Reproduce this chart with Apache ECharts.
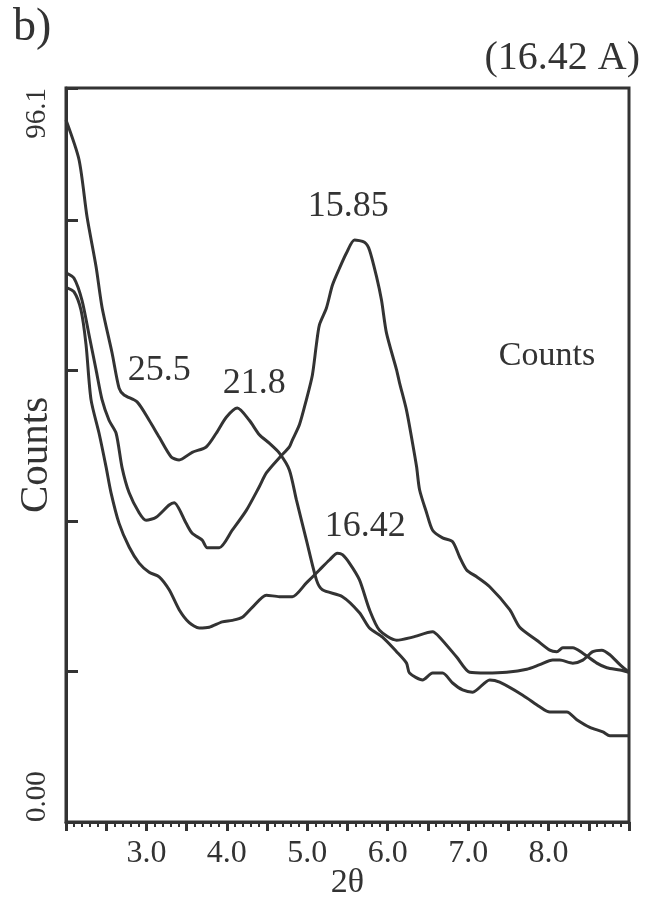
<!DOCTYPE html>
<html>
<head>
<meta charset="utf-8">
<title>XRD counts vs 2θ</title>
<script src="https://cdn.jsdelivr.net/npm/echarts@6/dist/echarts.min.js"></script>
<style>
  html, body { margin: 0; padding: 0; background: #fff; }
  #chart { width: 648px; height: 918px; }
</style>
</head>
<body>
<div id="chart"></div>
<script>
// curve values, [2θ, counts]
var curveA = [[2.000,91.9],[2.162,86.7],[2.262,79.2],[2.374,72.7],[2.448,67.4],[2.573,61.4],[2.660,56.8],[2.722,55.9],[2.884,55.0],[3.034,52.6],[3.158,50.4],[3.308,47.8],[3.407,47.4],[3.569,48.4],[3.743,49.1],[3.868,50.9],[3.993,53.0],[4.130,54.2],[4.279,52.6],[4.404,50.7],[4.528,49.6],[4.653,48.3],[4.777,46.1],[4.864,42.2],[4.989,36.9],[5.114,31.7],[5.188,30.4],[5.437,29.5],[5.649,27.4],[5.773,25.4],[5.935,24.2],[6.110,22.3],[6.234,20.8],[6.271,19.5],[6.433,18.6],[6.558,19.5],[6.682,19.5],[6.807,18.2],[6.931,17.3],[7.056,17.0],[7.268,18.6],[7.392,18.3],[7.679,16.6],[7.890,15.1],[8.015,14.4],[8.227,14.4],[8.351,13.4],[8.513,12.4],[8.675,11.8],[8.762,11.3],[9.000,11.3]];
var curveB = [[2.000,71.9],[2.100,71.2],[2.199,68.3],[2.286,63.8],[2.374,59.2],[2.448,55.3],[2.535,52.6],[2.623,50.9],[2.697,46.4],[2.785,43.1],[2.909,40.5],[2.996,39.5],[3.121,39.9],[3.283,41.5],[3.345,41.8],[3.494,39.1],[3.569,37.8],[3.694,36.9],[3.756,35.9],[3.905,35.9],[4.067,38.2],[4.242,40.8],[4.403,43.9],[4.491,45.7],[4.653,47.7],[4.777,49.1],[4.814,50.0],[4.902,52.0],[4.989,55.3],[5.063,58.5],[5.113,62.5],[5.151,65.1],[5.238,67.3],[5.313,70.3],[5.400,72.5],[5.487,74.5],[5.587,76.2],[5.711,75.9],[5.773,74.9],[5.861,71.4],[5.923,68.3],[5.985,64.0],[6.110,59.2],[6.147,57.5],[6.234,53.9],[6.309,49.6],[6.359,46.5],[6.396,43.5],[6.483,40.5],[6.558,38.2],[6.682,37.2],[6.807,36.7],[6.894,34.7],[6.981,33.0],[7.106,32.1],[7.268,30.8],[7.517,27.8],[7.641,25.5],[7.853,23.8],[8.015,22.5],[8.102,22.3],[8.177,22.8],[8.301,22.8],[8.426,22.1],[8.600,20.8],[8.725,20.2],[8.887,19.9],[9.000,19.6]];
var curveC = [[2.000,70.0],[2.100,69.4],[2.187,67.0],[2.249,62.5],[2.311,55.3],[2.411,50.9],[2.498,46.5],[2.560,43.1],[2.660,39.1],[2.785,36.0],[2.909,33.9],[3.034,32.7],[3.158,32.1],[3.283,30.4],[3.407,27.8],[3.532,26.1],[3.656,25.4],[3.781,25.5],[3.943,26.2],[4.067,26.4],[4.192,26.8],[4.316,28.1],[4.491,29.7],[4.653,29.5],[4.814,29.5],[4.989,31.3],[5.151,33.0],[5.275,34.3],[5.375,35.2],[5.437,35.0],[5.524,33.9],[5.649,31.7],[5.773,27.8],[5.898,25.1],[6.110,23.8],[6.309,24.2],[6.558,24.9],[6.645,24.2],[6.857,21.6],[7.019,19.6],[7.230,19.5],[7.479,19.6],[7.729,20.0],[7.890,20.6],[8.052,21.2],[8.139,21.2],[8.301,20.8],[8.426,21.2],[8.550,22.3],[8.662,22.5],[8.762,21.9],[8.887,20.6],[9.000,19.6]];

// d-spacing notes written over the peaks: text, 2θ, counts
var notesA = [['25.5', 3.16, 56.8], ['21.8', 4.34, 55.0]];
var notesB = [['15.85', 5.51, 78.2]];
var notesC = [['16.42', 5.72, 36.3]];
var insideNote = ['Counts', 7.98, 58.8];

var xTickLabels = [3, 4, 5, 6, 7, 8];
var yMin = 0, yMax = 96.1;

var serif = "'Liberation Serif', 'DejaVu Serif', serif";
var ink = '#333';

function notePoints(list, size) {
    return list.map(function (n) {
        return {
            coord: [n[1], n[2]],
            value: n[0],
            label: { fontSize: size }
        };
    });
}

function curve(data, notes) {
    return {
        type: 'line',
        data: data,
        showSymbol: false,
        smooth: 0.25,
        lineStyle: { color: ink, width: 3 },
        silent: true,
        markPoint: {
            symbol: 'circle',
            symbolSize: 0,
            silent: true,
            label: {
                show: true,
                position: 'top',
                distance: 0,
                color: ink,
                fontFamily: serif,
                formatter: '{c}'
            },
            data: notePoints(notes, 36)
        }
    };
}

var myChart = echarts.init(document.getElementById('chart'), null, { renderer: 'canvas' });

var option = {
    animation: false,
    backgroundColor: '#fff',
    title: [
        { text: 'b)', left: 8, top: 0, textStyle: { fontFamily: serif, fontWeight: 'normal', fontSize: 46, color: ink } },
        { text: '(16.42 A)', right: 3, top: 33, textStyle: { fontFamily: serif, fontWeight: 'normal', fontSize: 40, color: ink } }
    ],
    grid: {
        left: 66,
        right: 19,
        top: 88,
        bottom: 96,
        containLabel: false,
        outerBoundsMode: 'none',
        show: true,
        borderColor: ink,
        borderWidth: 3,
        backgroundColor: 'transparent'
    },
    xAxis: {
        type: 'value',
        min: 2,
        max: 9,
        interval: 0.5,
        name: '2θ',
        nameLocation: 'middle',
        nameGap: 44,
        nameMoveOverlap: false,
        nameTextStyle: { fontFamily: serif, fontSize: 34, color: ink },
        axisLine: { lineStyle: { color: ink, width: 3 } },
        axisTick: { inside: false, length: 9, lineStyle: { color: ink, width: 3 } },
        minorTick: { show: true, splitNumber: 5, length: 5, lineStyle: { color: ink, width: 2 } },
        splitLine: { show: false },
        axisLabel: {
            margin: 16,
            fontFamily: serif,
            fontSize: 32,
            color: ink,
            formatter: function (v) {
                return xTickLabels.indexOf(Math.round(v * 10) / 10) >= 0 ? v.toFixed(1) : '';
            }
        }
    },
    yAxis: {
        type: 'value',
        min: yMin,
        max: yMax,
        interval: 19.7,
        name: 'Counts',
        nameLocation: 'middle',
        nameRotate: 90,
        nameGap: 9,
        nameMoveOverlap: false,
        nameTextStyle: { fontFamily: serif, fontSize: 41, color: ink },
        axisLine: { lineStyle: { color: ink, width: 3 } },
        axisTick: { inside: true, length: 12, lineStyle: { color: ink, width: 3 } },
        splitLine: { show: false },
        axisLabel: {
            rotate: 90,
            margin: 14,
            fontFamily: serif,
            fontSize: 29,
            color: ink,
            showMinLabel: true,
            showMaxLabel: true,
            alignMinLabel: 'left',
            alignMaxLabel: 'right',
            formatter: function (v) {
                if (v === yMin) return '0.00';
                if (Math.abs(v - yMax) < 1e-6) return '96.1';
                return '';
            }
        }
    },
    series: [
        curve(curveA, notesA),
        curve(curveB, notesB),
        curve(curveC, notesC),
        {
            type: 'scatter',
            data: [],
            silent: true,
            markPoint: {
                symbol: 'circle',
                symbolSize: 0,
                label: { show: true, position: 'top', distance: 0, color: ink, fontFamily: serif, formatter: '{c}' },
                data: notePoints([insideNote], 34)
            }
        }
    ]
};

myChart.setOption(option);
</script>
</body>
</html>
